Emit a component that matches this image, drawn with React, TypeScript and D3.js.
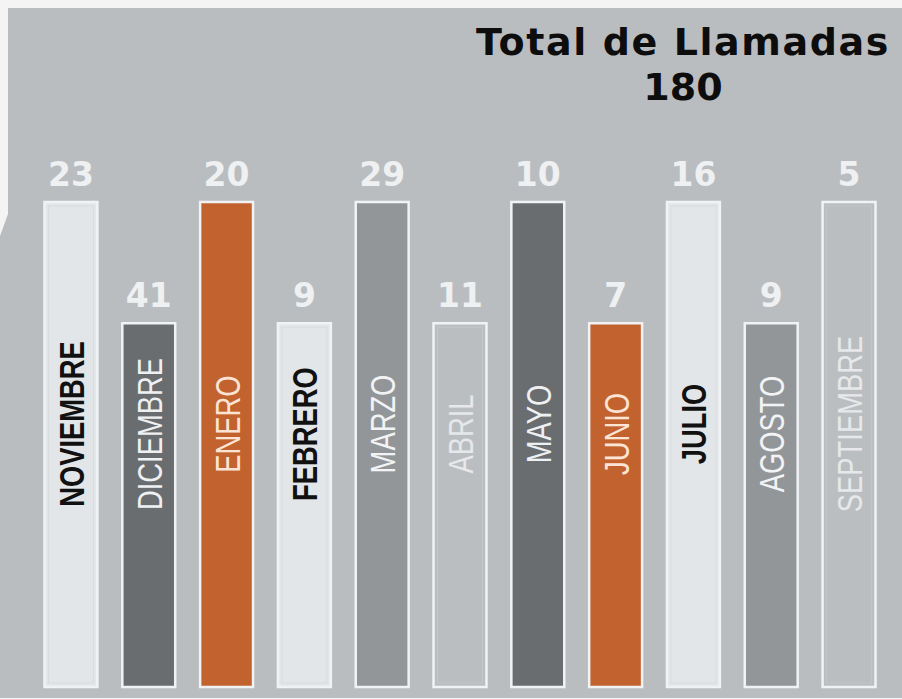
import React, { useRef, useEffect } from "react";
import * as d3 from "d3";

// Llamadas por mes (noviembre a septiembre)
const months = [
  "NOVIEMBRE", "DICIEMBRE", "ENERO", "FEBRERO", "MARZO", "ABRIL",
  "MAYO", "JUNIO", "JULIO", "AGOSTO", "SEPTIEMBRE",
];
const calls = [23, 41, 20, 9, 29, 11, 10, 7, 16, 9, 5];
// the bars alternate between two heights, they do not follow the values
const levels = [1, 0.75, 1, 0.75, 1, 0.75, 1, 0.75, 1, 0.75, 1];
const tones = [
  "claro", "oscuro", "naranja", "claro", "medio", "fondo",
  "oscuro", "naranja", "claro", "medio", "fondo",
];
const titleLines = ["Total de Llamadas", "180"];

const W = 902;
const H = 699;

export default function App() {
  const svgRef = useRef<SVGSVGElement>(null);

  useEffect(() => {
    const svg = d3.select(svgRef.current);
    svg.selectAll("*").remove();

    const bg = "#babdc0";
    const fill = d3
      .scaleOrdinal<string, string>()
      .domain(["claro", "oscuro", "naranja", "medio", "fondo"])
      .range(["#e3e6e9", "#6a6d70", "#c1622f", "#939699", "#bbbec1"]);
    const ink = d3
      .scaleOrdinal<string, string>()
      .domain(["claro", "oscuro", "naranja", "medio", "fondo"])
      .range(["#111111", "#eef0f2", "#fbe4d4", "#f2f3f5", "#e6e8ea"]);

    // backdrop
    svg.append("rect").attr("width", W).attr("height", H).attr("fill", bg);
    svg
      .append("path")
      .attr("d", `M0,0H${W}V8H8V214L0,236Z`)
      .attr("fill", "#f4f4f4");
    svg
      .append("rect")
      .attr("y", 698)
      .attr("width", W)
      .attr("height", 1)
      .attr("fill", "#f4f4f4");

    const x = d3
      .scaleBand()
      .domain(months)
      .range([44.5, 875.5])
      .paddingInner(0.32)
      .paddingOuter(0);

    const y = d3.scaleLinear().domain([0, 1]).range([687, 202]);

    const rows = months.map((m, i) => ({
      month: m,
      value: calls[i],
      level: levels[i],
      tone: tones[i],
    }));

    const g = svg.append("g");

    // Bars
    g.selectAll("rect.bar")
      .data(rows)
      .join("rect")
      .attr("class", "bar")
      .attr("x", (d) => x(d.month)!)
      .attr("y", (d) => y(d.level))
      .attr("width", x.bandwidth())
      .attr("height", (d) => y(0) - y(d.level))
      .attr("fill", (d) => fill(d.tone))
      .attr("stroke", "#f1f2f4")
      .attr("stroke-width", 2.5);

    // faint inner edge on the pale bars
    g.selectAll("rect.inner")
      .data(rows.filter((d) => d.tone === "claro" || d.tone === "fondo"))
      .join("rect")
      .attr("class", "inner")
      .attr("x", (d) => x(d.month)! + 4)
      .attr("y", (d) => y(d.level) + 4)
      .attr("width", x.bandwidth() - 8)
      .attr("height", (d) => y(0) - y(d.level) - 8)
      .attr("fill", "none")
      .attr("stroke", (d) => (d.tone === "claro" ? "#d9dcdf" : "#c3c6c9"))
      .attr("stroke-width", 1);

    // value labels
    g.selectAll("text.val")
      .data(rows)
      .join("text")
      .attr("class", "val")
      .attr("x", (d) => x(d.month)! + x.bandwidth() / 2)
      .attr("y", (d) => y(d.level) - 16)
      .attr("text-anchor", "middle")
      .attr("fill", "#eef0f2")
      .attr("font-family", "DejaVu Sans")
      .attr("font-weight", 700)
      .attr("font-size", 33)
      .text((d) => d.value);

    // month names, vertical
    g.selectAll("text.mes")
      .data(rows)
      .join("text")
      .attr("class", "mes")
      .attr(
        "transform",
        (d) =>
          `translate(${x(d.month)! + x.bandwidth() / 2},${d.level === 1 ? 424 : 434}) rotate(-90) scale(0.76,1)`
      )
      .attr("text-anchor", "middle")
      .attr("dy", "0.36em")
      .attr("fill", (d) => ink(d.tone))
      .attr("font-family", "Liberation Sans, Arial, sans-serif")
      .attr("font-weight", (d) => (d.tone === "claro" ? 700 : 400))
      .attr("font-size", 36)
      .text((d) => d.month);

    // title
    svg
      .append("g")
      .selectAll("text")
      .data(titleLines)
      .join("text")
      .attr("x", 683)
      .attr("y", (d, i) => 55 + i * 45)
      .attr("text-anchor", "middle")
      .attr("fill", "#0d0d0d")
      .attr("font-family", "DejaVu Sans")
      .attr("font-weight", 700)
      .attr("font-size", 38)
      .attr("letter-spacing", (d, i) => (i === 0 ? 1.6 : 0))
      .text((d) => d);
  }, []);

  return (
    <svg
      ref={svgRef}
      width={W}
      height={H}
      style={{ position: "absolute", left: 0, top: 0 }}
    />
  );
}
